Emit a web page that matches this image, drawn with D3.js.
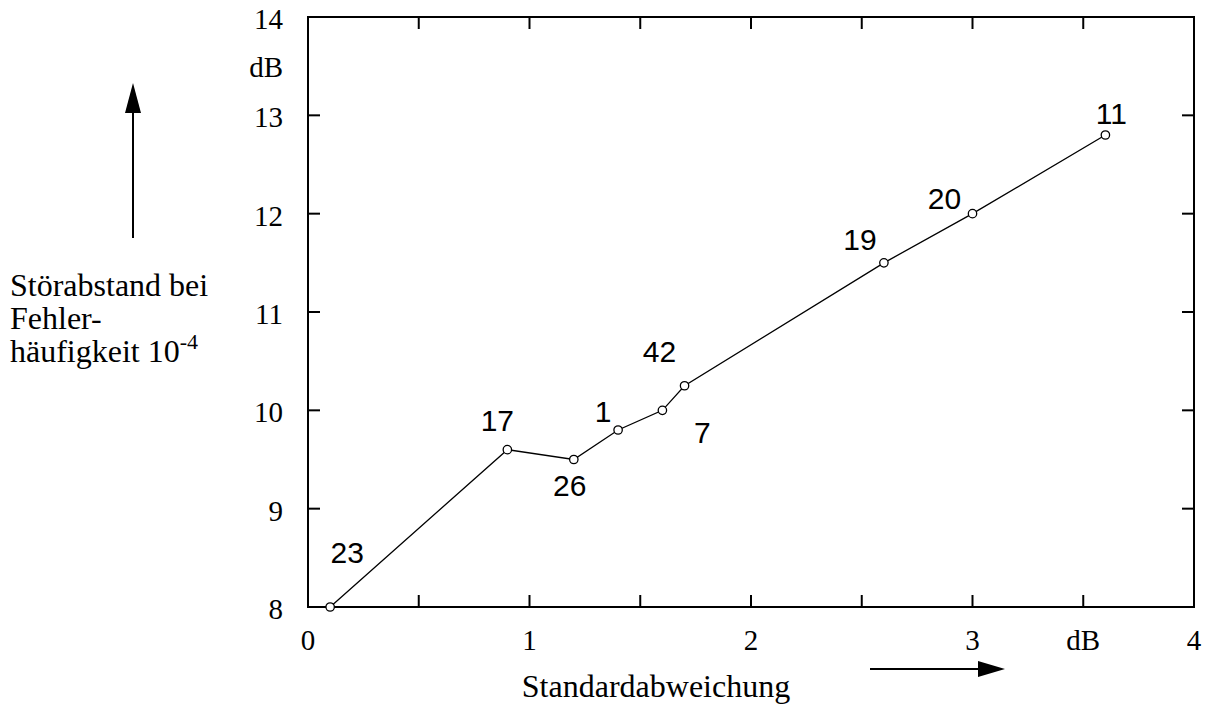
<!DOCTYPE html>
<html><head><meta charset="utf-8">
<script src="https://cdnjs.cloudflare.com/ajax/libs/d3/7.8.5/d3.min.js"></script>
<style>body{margin:0;background:#fff}</style>
</head><body>
<script>
const xValues = [0.1, 0.9, 1.2, 1.4, 1.6, 1.7, 2.6, 3.0, 3.6];
const yValues = [8.0, 9.6, 9.5, 9.8, 10.0, 10.25, 11.5, 12.0, 12.8];
const pointLabels = ["23", "17", "26", "1", "7", "42", "19", "20", "11"];
// label offsets (px) relative to point
const labelDx = [17, -10, -4, -15, 40, -25, -24, -28, 6];
const labelDy = [-44, -19, 36, -8, 33, -24, -13, -5, -11];
const xTickLabels = ["0", "1", "2", "3", "dB", "4"];
const xTickLabelValues = [0, 1, 2, 3, 3.5, 4];
const yTickLabels = ["8", "9", "10", "11", "12", "13", "14"];
const yTickValues = [8, 9, 10, 11, 12, 13, 14];
const xMinorTicks = [0.5, 1, 1.5, 2, 2.5, 3, 3.5];
const yInnerTicks = [9, 10, 11, 12, 13];

const W = 1214, H = 714;
const svg = d3.select("body").append("svg").attr("width", W).attr("height", H);
const x = d3.scaleLinear().domain([0, 4]).range([308, 1194]);
const y = d3.scaleLinear().domain([8, 14]).range([607, 17]);
const serif = "'Liberation Serif','Times New Roman',serif";
const sans = "'Liberation Sans',Arial,sans-serif";

// frame
svg.append("rect").attr("x", x(0)).attr("y", y(14)).attr("width", x(4) - x(0)).attr("height", y(8) - y(14))
  .attr("fill", "none").attr("stroke", "#000").attr("stroke-width", 2);

const T = 12;
const tg = svg.append("g").attr("stroke", "#000").attr("stroke-width", 2);
xMinorTicks.forEach(v => {
  tg.append("line").attr("x1", x(v)).attr("x2", x(v)).attr("y1", y(8)).attr("y2", y(8) - T);
  tg.append("line").attr("x1", x(v)).attr("x2", x(v)).attr("y1", y(14)).attr("y2", y(14) + T);
});
yInnerTicks.forEach(v => {
  tg.append("line").attr("x1", x(0)).attr("x2", x(0) + T).attr("y1", y(v)).attr("y2", y(v));
  tg.append("line").attr("x1", x(4)).attr("x2", x(4) - T).attr("y1", y(v)).attr("y2", y(v));
});

// tick labels
xTickLabels.forEach((t, i) => {
  svg.append("text").attr("x", x(xTickLabelValues[i])).attr("y", 650).attr("text-anchor", "middle")
    .attr("font-family", serif).attr("font-size", 29).text(t);
});
yTickLabels.forEach((t, i) => {
  svg.append("text").attr("x", 283).attr("y", y(yTickValues[i]) + 12).attr("text-anchor", "end")
    .attr("font-family", serif).attr("font-size", 29).text(t);
});
svg.append("text").attr("x", 283).attr("y", 77).attr("text-anchor", "end")
  .attr("font-family", serif).attr("font-size", 29).text("dB");

// line + markers
const pts = xValues.map((v, i) => [v, yValues[i]]);
svg.append("path").datum(pts).attr("d", d3.line().x(d => x(d[0])).y(d => y(d[1])))
  .attr("fill", "none").attr("stroke", "#000").attr("stroke-width", 1.3);
svg.selectAll("circle.m").data(pts).enter().append("circle")
  .attr("cx", d => x(d[0])).attr("cy", d => y(d[1])).attr("r", 4.2)
  .attr("fill", "#fff").attr("stroke", "#000").attr("stroke-width", 1.3);
pts.forEach((d, i) => {
  svg.append("text").attr("x", x(d[0]) + labelDx[i]).attr("y", y(d[1]) + labelDy[i])
    .attr("text-anchor", "middle").attr("font-family", sans).attr("font-size", 30).text(pointLabels[i]);
});

// axis titles
svg.append("text").attr("x", 656).attr("y", 697).attr("text-anchor", "middle")
  .attr("font-family", serif).attr("font-size", 32).text("Standardabweichung");
const lt = svg.append("g").attr("font-family", serif).attr("font-size", 32);
lt.append("text").attr("x", 10).attr("y", 296).text("Störabstand bei");
lt.append("text").attr("x", 10).attr("y", 329).text("Fehler-");
const t3 = lt.append("text").attr("x", 10).attr("y", 362);
t3.append("tspan").text("häufigkeit 10");
t3.append("tspan").attr("dy", -13).attr("font-size", 22).text("-4");

// arrows
svg.append("line").attr("x1", 870).attr("x2", 980).attr("y1", 669).attr("y2", 669).attr("stroke", "#000").attr("stroke-width", 2);
svg.append("path").attr("d", "M1005,669 L978,661 L978,677 Z").attr("fill", "#000");
svg.append("line").attr("x1", 133).attr("x2", 133).attr("y1", 238).attr("y2", 110).attr("stroke", "#000").attr("stroke-width", 2);
svg.append("path").attr("d", "M133,83 L125,113 L141,113 Z").attr("fill", "#000");
</script>
</body></html>
